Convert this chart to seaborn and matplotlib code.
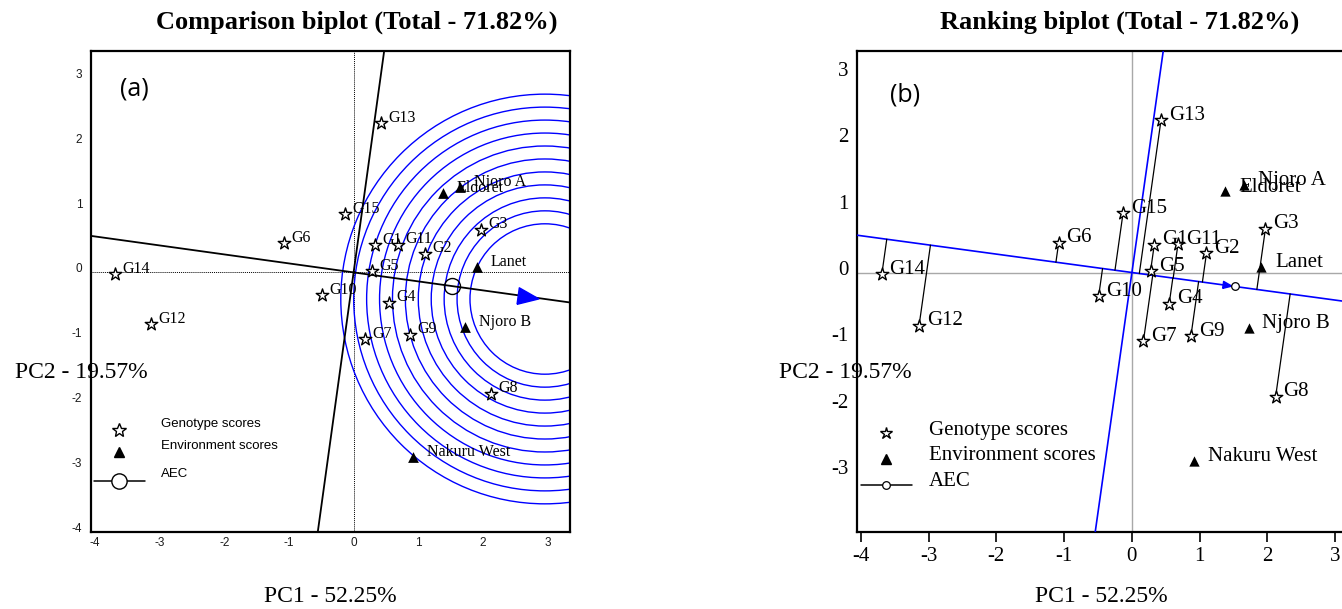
import numpy as np
import pandas as pd
import matplotlib
matplotlib.use("Agg")
import matplotlib.pyplot as plt
import seaborn as sns
from matplotlib.patches import Circle
import matplotlib.transforms as mtrans

# ---------------- data ----------------
genotypes = ["G1", "G2", "G3", "G4", "G5", "G6", "G7", "G8", "G9", "G10",
             "G11", "G12", "G13", "G14", "G15"]
g_pc1 = [0.33, 1.10, 1.97, 0.55, 0.28, -1.08, 0.17, 2.12, 0.87, -0.49,
         0.68, -3.14, 0.43, -3.69, -0.13]
g_pc2 = [0.42, 0.29, 0.66, -0.47, 0.02, 0.45, -1.03, -1.87, -0.96, -0.35,
         0.43, -0.80, 2.30, -0.03, 0.90]

environments = ["Eldoret", "Njoro A", "Lanet", "Njoro B", "Nakuru West"]
e_pc1 = [1.38, 1.65, 1.91, 1.72, 0.92]
e_pc2 = [1.22, 1.32, 0.09, -0.84, -2.84]

ideal_distance = 2.99          # centre of concentric circles along the AEC
ring_radii = [1.16, 1.36, 1.56, 1.76, 1.96, 2.16, 2.36, 2.56, 2.76, 2.96, 3.16]

ticks = [-4, -3, -2, -1, 0, 1, 2, 3]
title_a = "Comparison biplot (Total - 71.82%)"
title_b = "Ranking biplot (Total - 71.82%)"
xlab = "PC1 - 52.25%"
ylab = "PC2 - 19.57%"
legend_labels = ["Genotype scores", "Environment scores", "AEC"]

gdf = pd.DataFrame({"name": genotypes, "pc1": g_pc1, "pc2": g_pc2})
edf = pd.DataFrame({"name": environments, "pc1": e_pc1, "pc2": e_pc2})

# ---------------- setup ----------------
W, H = 1342, 609
sns.set_theme(style="white")
plt.rcParams["font.family"] = ["Liberation Serif", "DejaVu Serif"]
plt.rcParams["axes.unicode_minus"] = False
plt.rcParams["text.color"] = "black"
plt.rcParams["axes.labelcolor"] = "black"
plt.rcParams["xtick.color"] = "black"
plt.rcParams["ytick.color"] = "black"

fig = plt.figure(figsize=(W / 100, H / 100), dpi=100)


def box(l, t, r, b):
    return [l / W, 1 - b / H, (r - l) / W, (b - t) / H]


def P(x, y):
    return (x / W, 1 - y / H)


axA = fig.add_axes(box(90.7, 50.7, 570, 531.7))
axB = fig.add_axes(box(856.7, 50.7, 1359, 531.5))

# AEC direction from the mean environment
aec = np.array([edf.pc1.mean(), edf.pc2.mean()])
u = aec / np.linalg.norm(aec)
v = np.array([-u[1], u[0]])
angle = np.degrees(np.arctan2(u[1], u[0]))
span = np.array([-8, 8])


def arrow_marker(ang):
    pts = np.array([[-1, -0.8], [1, 0], [-1, 0.8], [-1, -0.8]])
    a = np.radians(ang)
    R = np.array([[np.cos(a), -np.sin(a)], [np.sin(a), np.cos(a)]])
    return [tuple(p) for p in pts @ R.T]


# ---------------- panel (a) ----------------
ax = axA
ax.set_xlim(-4.07, 3.35)
ax.set_ylim(-4.0, 3.42)
ax.axhline(0, color="black", lw=0.7, ls=(0, (1, 1)), zorder=1)
ax.axvline(0, color="black", lw=0.7, ls=(0, (1, 1)), zorder=1)
centre = ideal_distance * u
for r in ring_radii:
    ax.add_patch(Circle(centre, r, fill=False, ec="#0000ff", lw=1.0, zorder=2))
ax.plot(span * u[0], span * u[1], color="black", lw=1.3, zorder=3)
ax.plot(span * v[0], span * v[1], color="black", lw=1.3, zorder=3)
ax.plot([aec[0]], [aec[1]], marker="o", ms=11.5, mfc="none", mec="black",
        mew=1.0, zorder=6)
pa = 2.73 * u
ax.plot([pa[0]], [pa[1]], marker=arrow_marker(angle), ms=16.5, color="#0000ff",
        mec="#0000ff", zorder=6)
sns.scatterplot(data=gdf, x="pc1", y="pc2", marker="*", s=90, color="white",
                edgecolor="black", linewidth=1.0, ax=ax, zorder=7, legend=False)
sns.scatterplot(data=edf, x="pc1", y="pc2", marker="^", s=60, color="black",
                edgecolor="black", linewidth=0, ax=ax, zorder=7, legend=False)
for n, x, y in zip(gdf.name, gdf.pc1, gdf.pc2):
    ax.annotate(n, (x, y), xytext=(5.3, 4.0), textcoords="offset points",
                ha="left", va="center", fontsize=11.5, zorder=8)
for n, x, y in zip(edf.name, edf.pc1, edf.pc2):
    ax.annotate(n, (x, y), xytext=(10, 3.6), textcoords="offset points",
                ha="left", va="center", fontsize=11.5, zorder=8)
ax.set_xticks(ticks)
ax.set_yticks(ticks)
ax.set_xlabel("")
ax.set_ylabel("")
ax.tick_params(length=0, labelsize=8.5, pad=4, colors="#1a1a1a")
for lab in ax.get_xticklabels() + ax.get_yticklabels():
    lab.set_family(["Liberation Sans", "DejaVu Sans"])
ax.tick_params(axis="y", pad=6)

# ---------------- panel (b) ----------------
ax = axB
ax.set_xlim(-4.06, 3.35)
ax.set_ylim(-3.90, 3.34)
ax.axhline(0, color="#a8a8a8", lw=1.0, zorder=1)
ax.axvline(0, color="#a8a8a8", lw=1.0, zorder=1)
ax.plot(span * u[0], span * u[1], color="#0000ff", lw=1.2, zorder=3)
ax.plot(span * v[0], span * v[1], color="#0000ff", lw=1.2, zorder=3)
for x, y in zip(gdf.pc1, gdf.pc2):
    f = np.dot([x, y], u) * u
    ax.plot([x, f[0]], [y, f[1]], color="black", lw=0.9, zorder=4)
pb = 1.42 * u
ax.plot([pb[0]], [pb[1]], marker=arrow_marker(angle), ms=7, color="#0000ff",
        mec="#0000ff", zorder=6)
ax.plot([aec[0]], [aec[1]], marker="o", ms=5.5, mfc="white", mec="black",
        mew=0.9, zorder=6)
sns.scatterplot(data=gdf, x="pc1", y="pc2", marker="*", s=90, color="white",
                edgecolor="black", linewidth=1.0, ax=ax, zorder=7, legend=False)
sns.scatterplot(data=edf, x="pc1", y="pc2", marker="^", s=55, color="black",
                edgecolor="black", linewidth=0, ax=ax, zorder=7, legend=False)
for n, x, y in zip(gdf.name, gdf.pc1, gdf.pc2):
    ax.annotate(n, (x, y), xytext=(5.6, 3.4), textcoords="offset points",
                ha="left", va="center", fontsize=15, zorder=8)
for n, x, y in zip(edf.name, edf.pc1, edf.pc2):
    ax.annotate(n, (x, y), xytext=(10, 3.2), textcoords="offset points",
                ha="left", va="center", fontsize=15, zorder=8)
ax.set_xticks(ticks)
ax.set_yticks([-3, -2, -1, 0, 1, 2, 3])
ax.set_xlabel("")
ax.set_ylabel("")
ax.tick_params(axis="x", length=7, width=1.2, labelsize=15, pad=4,
               colors="black", bottom=True, direction="out")
ax.tick_params(axis="y", length=0, labelsize=15, pad=6, colors="black")

for ax in (axA, axB):
    for s in ax.spines.values():
        s.set_color("black")
        s.set_linewidth(1.6)
        s.set_visible(True)
    off = mtrans.ScaledTranslation(0, 4.5 / 100, fig.dpi_scale_trans)
    for lab in ax.get_yticklabels():
        lab.set_transform(lab.get_transform() + off)

# ---------------- texts ----------------
fig.text(*P(357, 22.5), title_a, ha="center", va="center", fontsize=19,
         fontweight="bold", color="black")
fig.text(*P(1120, 22.5), title_b, ha="center", va="center", fontsize=19,
         fontweight="bold", color="black")
fig.text(*P(330, 596), xlab, ha="center", va="center", fontsize=17)
fig.text(*P(1101, 596), xlab, ha="center", va="center", fontsize=17)
fig.text(*P(81, 373), ylab, ha="center", va="center", fontsize=17)
fig.text(*P(845, 373), ylab, ha="center", va="center", fontsize=17)
fig.text(*P(134, 89), "(a)", ha="center", va="center", fontsize=18,
         family=["Open Sans", "DejaVu Sans"])
fig.text(*P(905, 95), "(b)", ha="center", va="center", fontsize=18,
         family=["Open Sans", "DejaVu Sans"])

# ---------------- legends ----------------
tf = fig.transFigure
# (a)
axA.plot(*P(119.4, 430), marker="*", ms=10, mfc="white", mec="black",
         mew=1.0, transform=tf, clip_on=False)
axA.plot(*P(119.4, 452), marker="^", ms=7.5, color="black", transform=tf,
         clip_on=False)
x0, y0 = P(94.5, 481)
x1, _ = P(144.6, 481)
axA.plot([x0, x1], [y0, y0], color="black", lw=1.1, transform=tf, clip_on=False)
axA.plot(*P(119.4, 481), marker="o", ms=11, mfc="white", mec="black", mew=1.0,
         transform=tf, clip_on=False)
for lab, yy in zip(legend_labels, [424, 446, 474]):
    fig.text(*P(160.7, yy), lab, ha="left", va="center", fontsize=9.5,
             family=["Liberation Sans", "DejaVu Sans"])
# (b)
axB.plot(*P(886, 433), marker="*", ms=9, mfc="white", mec="black",
         mew=1.0, transform=tf, clip_on=False)
axB.plot(*P(886, 459), marker="^", ms=7, color="black", transform=tf,
         clip_on=False)
x0, y0 = P(861, 485)
x1, _ = P(911.6, 485)
axB.plot([x0, x1], [y0, y0], color="black", lw=1.1, transform=tf, clip_on=False)
axB.plot(*P(886, 485), marker="o", ms=5.5, mfc="white", mec="black", mew=0.9,
         transform=tf, clip_on=False)
for lab, yy in zip(legend_labels, [430, 455, 481]):
    fig.text(*P(929, yy), lab, ha="left", va="center", fontsize=15)

fig.savefig("out.png", dpi=100)
